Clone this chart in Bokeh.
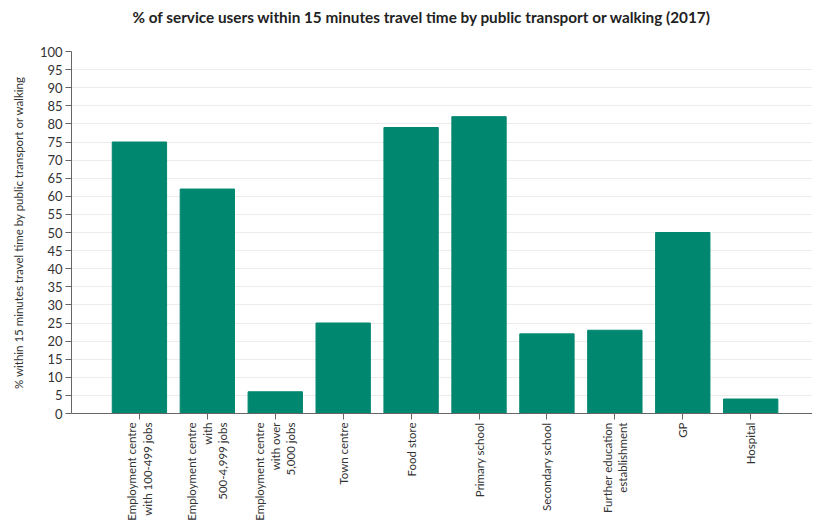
import math
from bokeh.plotting import figure
from bokeh.models import Range1d, FixedTicker, Title
from bokeh.embed import file_html
from bokeh.resources import INLINE

categories = [
    "Employment centre\nwith 100-499 jobs",
    "Employment centre\nwith\n500-4,999 jobs",
    "Employment centre\nwith over\n5,000 jobs",
    "Town centre",
    "Food store",
    "Primary school",
    "Secondary school",
    "Further education\nestablishment",
    "GP",
    "Hospital",
]
values = [75, 62, 6, 25, 79, 82, 22, 23, 50, 4]
y_ticks = list(range(0, 101, 5))
title_text = "% of service users within 15 minutes travel time by public transport or walking (2017)"

FONT = "Lato"
x_pos = list(range(len(categories)))

p = figure(
    frame_width=741, frame_height=362,
    x_range=Range1d(-1.0, len(categories) - 0.09),
    y_range=Range1d(0, 100),
    output_backend="svg", toolbar_location=None,
    min_border_left=71, min_border_right=0, min_border_top=51, min_border_bottom=100,
)
p.title = None
# spacer between frame and title
p.add_layout(Title(text=" ", text_font_size="1px", standoff=18), "above")
p.add_layout(Title(text=title_text, text_font=FONT, text_font_size="15.3px",
                   text_font_style="bold", text_color="#222222",
                   align="left", offset=61, standoff=9), "above")

p.vbar(x=x_pos, top=values, width=0.8, fill_color="#00876f", line_color="#00876f")

p.outline_line_color = None
p.xgrid.grid_line_color = None
p.ygrid.grid_line_color = "#ececec"
p.ygrid.ticker = FixedTicker(ticks=y_ticks)

p.yaxis.ticker = FixedTicker(ticks=y_ticks)
p.yaxis.axis_label = "% within 15 minutes travel time by public transport or walking"
p.yaxis.axis_label_text_font = FONT
p.yaxis.axis_label_text_font_size = "11.5px"
p.yaxis.axis_label_text_font_style = "normal"
p.yaxis.axis_label_text_color = "#333333"
p.yaxis.axis_label_standoff = 12
p.yaxis.major_label_text_font = FONT
p.yaxis.major_label_text_font_size = "13px"
p.yaxis.major_label_text_color = "#333333"
p.yaxis.minor_tick_line_color = None
p.yaxis.major_tick_in = 0
p.yaxis.major_tick_out = 6
p.yaxis.major_tick_line_color = "#666666"
p.yaxis.axis_line_color = "#666666"
p.yaxis.major_label_standoff = 3

p.xaxis.ticker = FixedTicker(ticks=x_pos)
p.xaxis.major_label_overrides = {i: c for i, c in zip(x_pos, categories)}
p.xaxis.minor_tick_line_color = None
p.xaxis.major_label_orientation = math.pi / 2
p.xaxis.major_label_text_font = FONT
p.xaxis.major_label_text_font_size = "11.5px"
p.xaxis.major_label_text_color = "#333333"
p.xaxis.major_tick_in = 0
p.xaxis.major_tick_out = 6
p.xaxis.major_tick_line_color = "#666666"
p.xaxis.axis_line_color = "#666666"
p.xaxis.major_label_standoff = 3

open("out.html", "w").write(file_html(p, INLINE))
